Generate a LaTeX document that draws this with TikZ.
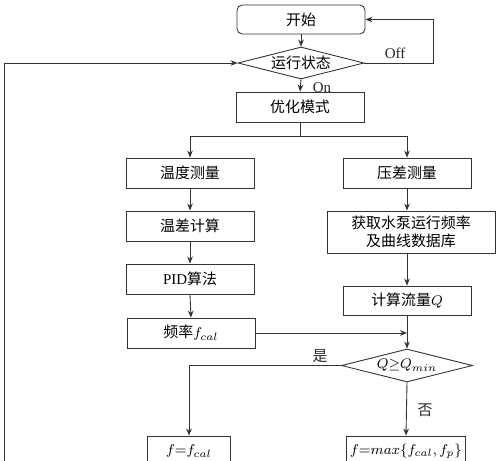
\documentclass[tikz,border=0pt]{standalone}
\usepackage{fontspec}
\setmainfont{Liberation Serif}
\newfontfamily\cjk{Noto Sans CJK SC}
\usetikzlibrary{calc, shapes.geometric, arrows.meta, positioning}

\begin{document}
\begin{tikzpicture}[
    x=0.02cm, y=-0.02cm,
    font=\fontsize{8.5}{10}\selectfont,
    box/.style={
        rectangle, draw=black!80, line width=0.5pt, fill=white,
        minimum width=2.56cm, minimum height=0.6cm,
        align=center, inner sep=2pt
    },
    startbox/.style={
        box, rounded corners=3pt, minimum height=0.58cm
    },
    decision/.style={
        diamond, draw=black!80, line width=0.5pt, fill=white,
        aspect=3.9, inner sep=0pt, align=center
    },
    arrow/.style={
        -{Stealth[length=4pt, width=3.2pt]}, line width=0.5pt, draw=black!80
    },
    line/.style={
        line width=0.5pt, draw=black!80
    },
    lbl/.style={
        inner sep=1pt, text=black!85
    }
]
    \useasboundingbox (0,0) rectangle (500,460);
    \clip (0,0) rectangle (500,460);

    % =========================================================================
    % START AND RUN STATE
    % =========================================================================
    \node [startbox] (start) at (301, 19.5) {\cjk 开始};
    \node [decision, minimum width=2.52cm, minimum height=0.64cm] (state) at (301, 63) {\cjk 运行状态};
    \node [box, minimum height=0.6cm] (mode) at (300, 107) {\cjk 优化模式};

    \draw [arrow] (start.south) -- (state.north);
    \draw [arrow] (state.south) -- (mode.north);
    \node [lbl] (on_lbl) at (322, 88) {On};

    % Off loops back to start
    \draw [arrow] (state.east) -- ++(69, 0) |- (start.east);
    \node [lbl] (off_lbl) at (395, 53) {Off};

    % =========================================================================
    % LEFT BRANCH: TEMPERATURE
    % =========================================================================
    \node [box] (temp) at (190, 173) {\cjk 温度测量};
    \node [box] (tdiff) at (190, 226) {\cjk 温差计算};
    \node [box] (pid) at (190, 279) {PID{\cjk 算法}};
    \node [box] (freq) at (191, 333) {{\cjk 频率}$f_{cal}$};

    \draw [arrow] (temp.south) -- (tdiff.north);
    \draw [arrow] (tdiff.south) -- (pid.north);
    \draw [arrow] (pid.south) -- (freq.north);

    % =========================================================================
    % RIGHT BRANCH: PRESSURE
    % =========================================================================
    \node [box] (press) at (407, 173) {\cjk 压差测量};
    \node [box, minimum width=3.36cm, minimum height=0.84cm] (pump) at (411, 232) {\cjk 获取水泵运行频率\\\cjk 及曲线数据库};
    \node [box, minimum height=0.58cm] (flow) at (407, 300.5) {{\cjk 计算流量}$Q$};
    \node [decision, minimum width=2.62cm, minimum height=0.66cm] (qcheck) at (407, 365.5) {$Q{\geq}Q_{min}$};

    \draw [arrow] (press.south) -- (press.south |- pump.north);
    \draw [arrow] (press.south |- pump.south) -- (flow.north);
    \draw [arrow] (flow.south) -- (qcheck.north);

    % split below the mode box
    \draw [line] (mode.south) -- ++(0, 14) coordinate (split);
    \draw [arrow] (split) -| (temp.north);
    \draw [arrow] (split) -| (press.north);

    % frequency joins the flow line
    \draw [arrow] (freq.east) -- (freq.east -| flow.south);

    % =========================================================================
    % RESULT
    % =========================================================================
    \node [box, minimum width=1.66cm] (fcal) at (189, 451) {$f{=}f_{cal}$};
    \node [box, minimum width=2.16cm] (fmax) at (406, 451) {$f{=}max\{f_{cal},f_p\}$};

    \draw [arrow] (qcheck.west) -| (fcal.north);
    \node [lbl] (yes_lbl) at (320, 356) {\cjk 是};
    \draw [arrow] (qcheck.south) -- (fmax.north);
    \node [lbl] (no_lbl) at (425, 410) {\cjk 否};

    % feedback from below to the run state
    \coordinate (fb) at (4, 480);
    \draw [arrow] (fb) |- (state.west);

\end{tikzpicture}
\end{document}
